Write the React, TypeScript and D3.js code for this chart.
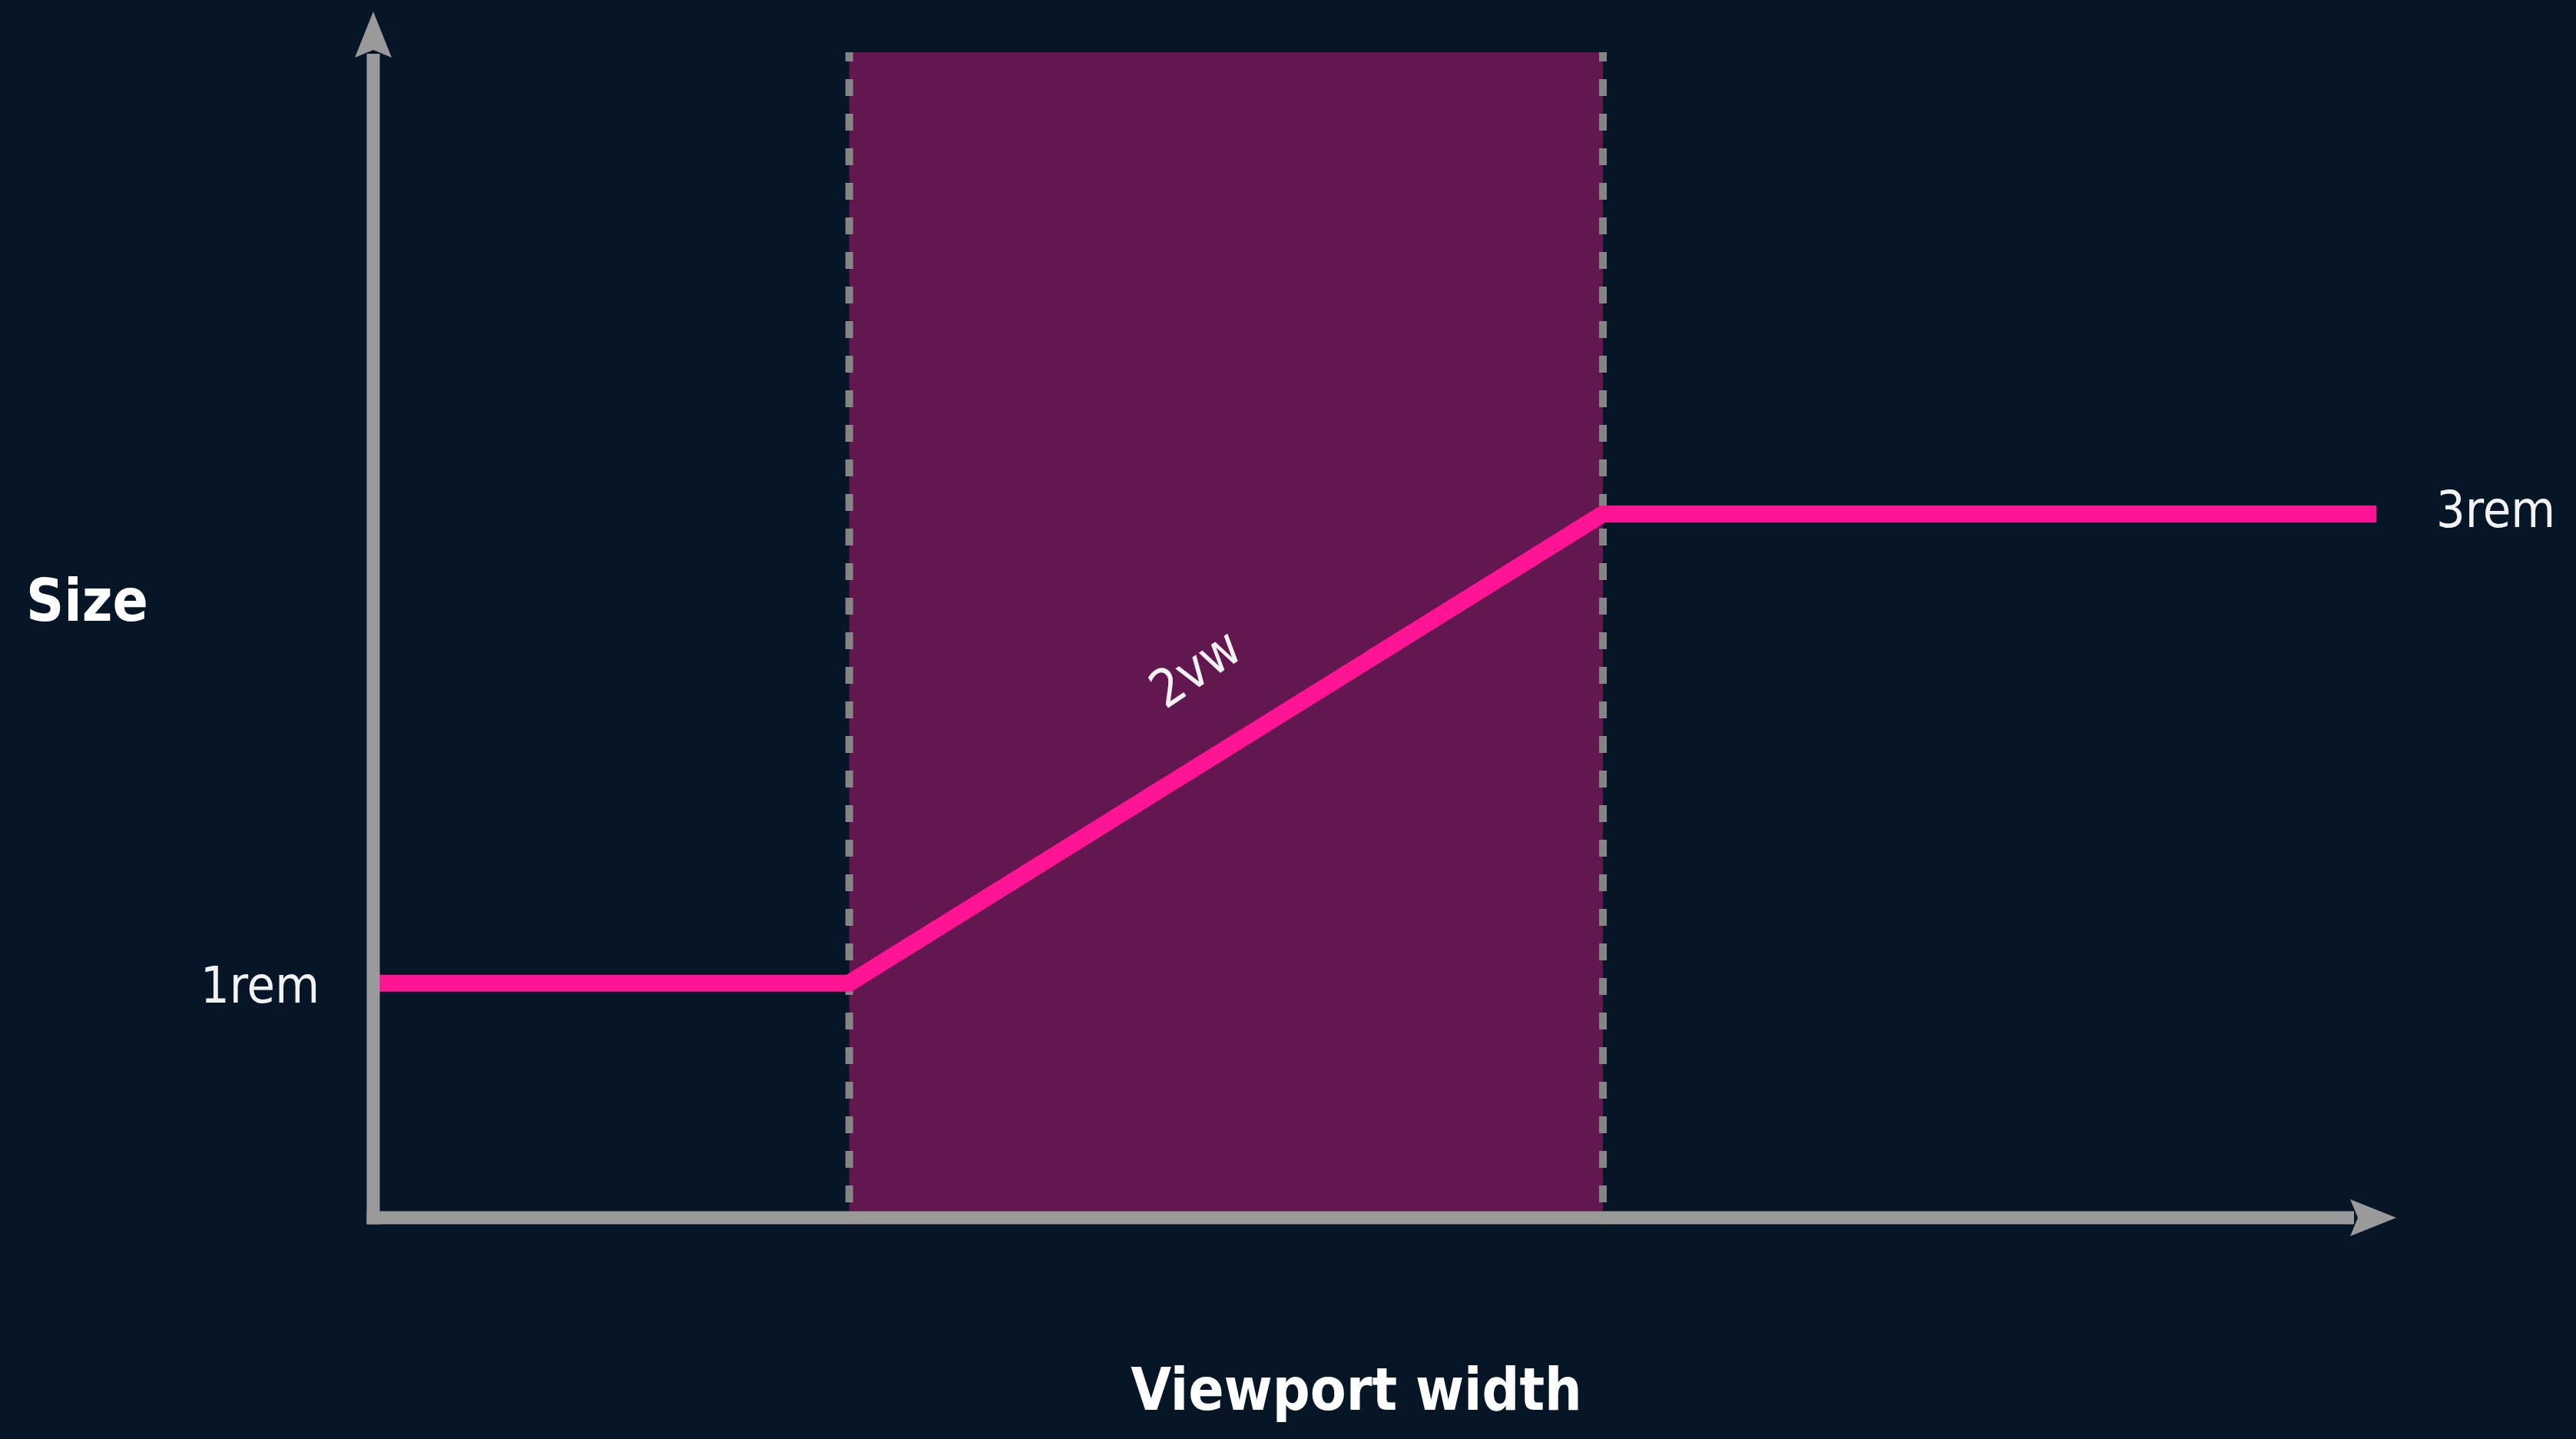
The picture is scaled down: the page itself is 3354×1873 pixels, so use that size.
import React from "react";
import * as d3 from "d3";

// fluid type diagram: size clamps between 1rem and 3rem, ramps at 2vw in between
const viewportStops = [0, 24, 62, 101]; // viewport width, arbitrary units
const sizeStops = [1, 1, 3, 3]; // font size, rem
const rampBounds = [24, 62]; // where the ramp starts / stops
const sizeLabels = ["1rem", "3rem"];
const slopeLabel = "2vw";
const xTitle = "Viewport width";
const yTitle = "Size";

const W = 3354;
const H = 1873;
const BG = "#061627";
const AXIS = "#9a9a9a";
const PINK = "#ff1493";
const BAND = "#62174e";
const FONT = "'DejaVu Sans Condensed', 'DejaVu Sans', sans-serif";

export default function App() {
  const x = d3.scaleLinear().domain([0, 102]).range([486, 3120]);
  const y = d3.scaleLinear().domain([0, 3]).range([1585, 669]);
  const plotTop = 68;
  const axisTop = 15;
  const aw = 17; // axis stroke

  const x0 = x(0);
  const y0 = y(0);
  const xTip = x.range()[1];

  const pts: [number, number][] = viewportStops.map((v, i) => [v, sizeStops[i]]);
  const line = d3
    .line<[number, number]>()
    .x(d => x(d[0]))
    .y(d => y(d[1]));

  const rx0 = x(rampBounds[0]);
  const rx1 = x(rampBounds[1]);
  const ry0 = y(sizeStops[1]);
  const ry1 = y(sizeStops[2]);
  const angle = (Math.atan2(ry1 - ry0, rx1 - rx0) * 180) / Math.PI;
  const mx = (rx0 + rx1) / 2;
  const my = (ry0 + ry1) / 2;

  return (
    <div style={{ position: "fixed", left: 0, top: 0, width: W, height: H, background: BG }}>
      <svg width={W} height={H} style={{ display: "block" }}>
        <rect width={W} height={H} fill={BG} />

        {/* ramp band */}
        <rect x={rx0} y={plotTop} width={rx1 - rx0} height={y0 - aw / 2 - plotTop} fill={BAND} />
        {rampBounds.map(b => (
          <line
            key={b}
            x1={x(b)}
            x2={x(b)}
            y1={plotTop}
            y2={y0 - aw / 2}
            stroke="#858585"
            strokeWidth={10}
            strokeDasharray="22 23"
            strokeDashoffset={10}
          />
        ))}

        {/* size curve */}
        <path
          d={line(pts) || ""}
          fill="none"
          stroke={PINK}
          strokeWidth={22}
          strokeLinejoin="miter"
          strokeLinecap="butt"
        />

        {/* axes */}
        <line x1={x0} x2={x0} y1={y0 + aw / 2} y2={axisTop + 55} stroke={AXIS} strokeWidth={aw} />
        <path
          d={`M${x0},${axisTop} L${x0 + 24},${axisTop + 60} L${x0},${axisTop + 50} L${x0 - 24},${axisTop + 60} Z`}
          fill={AXIS}
        />
        <line x1={x0 - aw / 2} x2={xTip - 55} y1={y0} y2={y0} stroke={AXIS} strokeWidth={aw} />
        <path
          d={`M${xTip},${y0} L${xTip - 60},${y0 + 24} L${xTip - 50},${y0} L${xTip - 60},${y0 - 24} Z`}
          fill={AXIS}
        />

        {/* labels */}
        <text x={x0 - 70} y={y(1) + 25} textAnchor="end" fontFamily={FONT} fontSize={66} fill="#f2f2f2">
          {sizeLabels[0]}
        </text>
        <text x={3172} y={y(3) + 17} textAnchor="start" fontFamily={FONT} fontSize={66} fill="#f2f2f2">
          {sizeLabels[1]}
        </text>
        <text
          transform={`translate(${mx},${my}) rotate(${angle - 2})`}
          x={25}
          y={-86}
          textAnchor="middle"
          fontFamily={FONT}
          fontSize={68}
          fill="#f2f2f2"
        >
          {slopeLabel}
        </text>
        <text x={34} y={808} fontFamily={FONT} fontWeight="bold" fontSize={76} fill="#ffffff">
          {yTitle}
        </text>
        <text x={1766} y={1835} textAnchor="middle" fontFamily={FONT} fontWeight="bold" fontSize={76} fill="#ffffff">
          {xTitle}
        </text>
      </svg>
    </div>
  );
}
